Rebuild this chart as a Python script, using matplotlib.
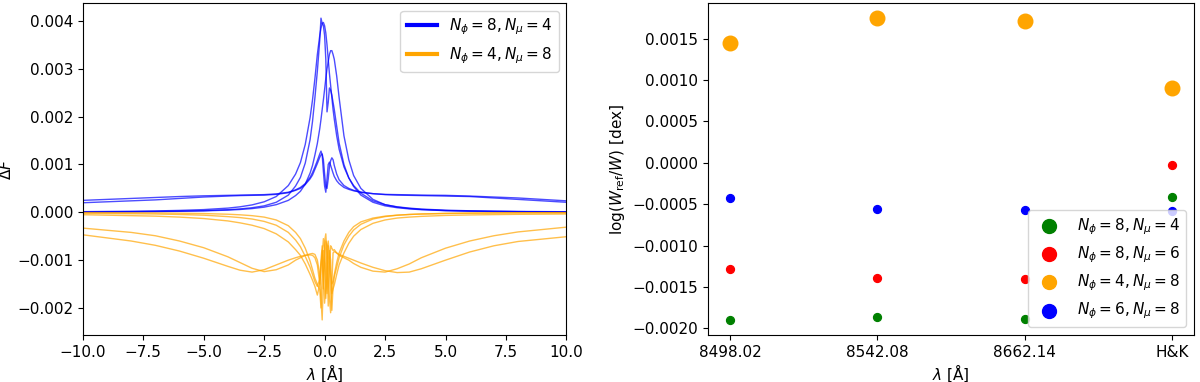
import matplotlib
matplotlib.use('Agg')
from matplotlib import pyplot as plt
import numpy as np

# wavelength offset grid for the left panel [A]
dlam = [-10, -8, -7, -6, -5, -4, -3.5, -3, -2.5, -2,
        -1.5, -1.2, -1, -0.8, -0.6, -0.5, -0.4, -0.3, -0.2, -0.15,
        -0.1, -0.05, 0, 0.05, 0.1, 0.15, 0.2, 0.25, 0.3, 0.35,
        0.4, 0.5, 0.6, 0.8, 1, 1.2, 1.5, 2, 2.5, 3,
        3.5, 4, 5, 6, 7, 8, 10]

# Delta F in units of 1e-3, N_phi=8, N_mu=4 (blue): 3 narrow + 2 wide lines
blue_t1 = [0.01, 0.014, 0.018, 0.024, 0.035, 0.055, 0.071, 0.096, 0.135, 0.21,
           0.36, 0.55, 0.73, 1.03, 1.52, 1.9, 2.4, 2.95, 3.6, 4.06,
           3.95, 3.9, 3.7, 3.2, 2.1, 2.3, 2.6, 2.55, 2.45, 2.3,
           2.15, 1.8, 1.45, 1.0, 0.72, 0.54, 0.36, 0.21, 0.135, 0.096,
           0.071, 0.055, 0.035, 0.024, 0.018, 0.014, 0.009]
blue_t2 = [0.014, 0.022, 0.029, 0.04, 0.057, 0.088, 0.115, 0.155, 0.22, 0.33,
           0.56, 0.8, 1.04, 1.42, 1.98, 2.35, 2.8, 3.3, 3.7, 3.85,
           3.95, 3.97, 3.9, 3.75, 3.5, 3.2, 2.9, 2.65, 2.4, 2.15,
           1.95, 1.6, 1.32, 0.95, 0.72, 0.56, 0.4, 0.24, 0.16, 0.115,
           0.088, 0.068, 0.045, 0.032, 0.024, 0.018, 0.012]
blue_t3 = [0.008, 0.012, 0.016, 0.021, 0.03, 0.046, 0.059, 0.078, 0.108, 0.16,
           0.25, 0.35, 0.44, 0.59, 0.82, 0.98, 1.2, 1.44, 1.75, 1.94,
           2.15, 2.35, 2.57, 2.8, 3.0, 3.15, 3.3, 3.38, 3.38, 3.3,
           3.2, 2.85, 2.4, 1.6, 1.1, 0.77, 0.5, 0.27, 0.16, 0.11,
           0.08, 0.06, 0.036, 0.026, 0.018, 0.014, 0.009]
blue_w1 = [0.25, 0.29, 0.31, 0.33, 0.345, 0.355, 0.36, 0.365, 0.37, 0.385,
           0.42, 0.47, 0.52, 0.6, 0.73, 0.83, 0.95, 1.08, 1.22, 1.28,
           1.2, 0.85, 0.55, 0.42, 0.7, 1.0, 1.05, 0.98, 0.9, 0.82,
           0.75, 0.66, 0.6, 0.52, 0.48, 0.45, 0.42, 0.39, 0.375, 0.37,
           0.365, 0.36, 0.355, 0.34, 0.32, 0.3, 0.24]
blue_w2 = [0.2, 0.24, 0.26, 0.29, 0.32, 0.34, 0.35, 0.355, 0.36, 0.375,
           0.41, 0.46, 0.5, 0.58, 0.7, 0.78, 0.9, 1.02, 1.15, 1.2,
           1.22, 1.1, 0.8, 0.55, 0.5, 0.7, 0.95, 1.08, 1.14, 1.1,
           0.98, 0.8, 0.68, 0.56, 0.5, 0.46, 0.42, 0.39, 0.37, 0.36,
           0.355, 0.35, 0.34, 0.33, 0.3, 0.27, 0.21]

# Delta F in units of 1e-3, N_phi=4, N_mu=8 (orange): 2 wide + 3 narrow lines
orange_w1 = [-0.33, -0.42, -0.49, -0.6, -0.74, -0.93, -1.05, -1.17, -1.24, -1.2,
             -1.1, -1.0, -0.95, -0.9, -0.87, -0.86, -0.88, -1.0, -1.3, -1.8,
             -2.25, -1.4, -0.6, -0.45, -0.9, -1.96, -1.2, -0.7, -0.75, -0.8,
             -0.78, -0.85, -0.9, -0.95, -1.0, -1.07, -1.15, -1.23, -1.25, -1.18,
             -1.08, -0.95, -0.75, -0.6, -0.49, -0.41, -0.31]
orange_w2 = [-0.47, -0.6, -0.69, -0.81, -0.96, -1.13, -1.21, -1.25, -1.2, -1.1,
             -1.0, -0.95, -0.92, -0.9, -0.89, -0.9, -0.95, -1.1, -1.5, -1.2,
             -0.8, -1.6, -1.0, -0.6, -0.7, -1.4, -1.8, -2.1, -1.5, -0.85,
             -0.82, -0.85, -0.88, -0.92, -0.96, -1.0, -1.06, -1.15, -1.22, -1.26,
             -1.25, -1.18, -1.0, -0.83, -0.7, -0.61, -0.51]
orange_n1 = [-0.02, -0.03, -0.035, -0.045, -0.06, -0.09, -0.11, -0.14, -0.19, -0.27,
             -0.42, -0.58, -0.72, -0.92, -1.15, -1.3, -1.45, -1.55, -1.4, -1.0,
             -0.7, -1.3, -1.9, -1.5, -0.75, -0.6, -0.9, -1.3, -1.5, -1.45,
             -1.3, -1.05, -0.85, -0.6, -0.42, -0.3, -0.2, -0.12, -0.08, -0.06,
             -0.045, -0.035, -0.025, -0.02, -0.015, -0.012, -0.01]
orange_n2 = [-0.05, -0.07, -0.08, -0.1, -0.13, -0.18, -0.22, -0.27, -0.34, -0.45,
             -0.62, -0.78, -0.9, -1.08, -1.3, -1.42, -1.55, -1.73, -1.5, -1.1,
             -0.9, -0.55, -0.75, -1.3, -1.7, -1.2, -0.8, -1.0, -1.7, -1.6,
             -1.52, -1.3, -1.1, -0.85, -0.65, -0.5, -0.36, -0.23, -0.16, -0.12,
             -0.1, -0.085, -0.065, -0.055, -0.048, -0.042, -0.035]
orange_n3 = [-0.005, -0.01, -0.013, -0.018, -0.026, -0.04, -0.052, -0.07, -0.1, -0.16,
             -0.28, -0.42, -0.55, -0.75, -1.02, -1.2, -1.38, -1.5, -1.62, -2.0,
             -1.3, -0.8, -1.1, -1.8, -1.2, -0.7, -1.1, -1.6, -2.05, -1.55,
             -1.35, -1.15, -0.95, -0.68, -0.5, -0.37, -0.25, -0.14, -0.09, -0.06,
             -0.045, -0.035, -0.022, -0.015, -0.011, -0.009, -0.006]

# right panel
lines = ['8498.02', '8542.08', '8662.14', 'H&K']
w_84 = [-0.00190, -0.00187, -0.00189, -0.00041]
w_86 = [-0.00129, -0.00139, -0.00141, -0.00003]
w_48 = [0.00145, 0.00175, 0.00171, 0.00091]
w_68 = [-0.00042, -0.00056, -0.00057, -0.00058]

plt.rcParams['font.size'] = 11

fig = plt.figure(figsize=(12, 3.82), dpi=100)
ax1 = fig.add_axes([0.069, 0.123, 0.403, 0.869])
ax2 = fig.add_axes([0.59, 0.123, 0.405, 0.869])

x = np.array(dlam)
blues = [blue_t1, blue_t2, blue_t3, blue_w1, blue_w2]
oranges = [orange_w1, orange_w2, orange_n1, orange_n2, orange_n3]
for i, y in enumerate(blues):
    ax1.plot(x, np.array(y) * 1e-3, c='blue', alpha=0.7, lw=1,
             label=r'$N_\phi=8, N_\mu=4$' if i == 0 else None)
for i, y in enumerate(oranges):
    ax1.plot(x, np.array(y) * 1e-3, c='orange', alpha=0.7, lw=1,
             label=r'$N_\phi=4, N_\mu=8$' if i == 0 else None)
ax1.set_xlim(-10, 10)
ax1.set_xlabel(r'$\lambda$ [Å]', labelpad=2)
ax1.set_ylabel(r'$\Delta F$', labelpad=2)
leg1 = ax1.legend(loc='upper right')
for h in leg1.get_lines():
    h.set_linewidth(3)
    h.set_alpha(1)

pos = np.arange(len(lines))
ax2.scatter(pos, w_84, c='green', s=32, label=r'$N_\phi=8, N_\mu=4$')
ax2.scatter(pos, w_86, c='red', s=32, label=r'$N_\phi=8, N_\mu=6$')
ax2.scatter(pos, w_48, c='orange', s=110, label=r'$N_\phi=4, N_\mu=8$')
ax2.scatter(pos, w_68, c='blue', s=32, label=r'$N_\phi=6, N_\mu=8$')
ax2.set_xticks(pos)
ax2.set_xticklabels(lines)
ax2.set_xlabel(r'$\lambda$ [Å]', labelpad=2)
ax2.set_ylabel(r'$\log(W_\mathrm{ref}/W)$ [dex]')
leg2 = ax2.legend(loc='lower right')
for h in leg2.legend_handles:
    h.set_sizes([100])

fig.savefig('out.png')
